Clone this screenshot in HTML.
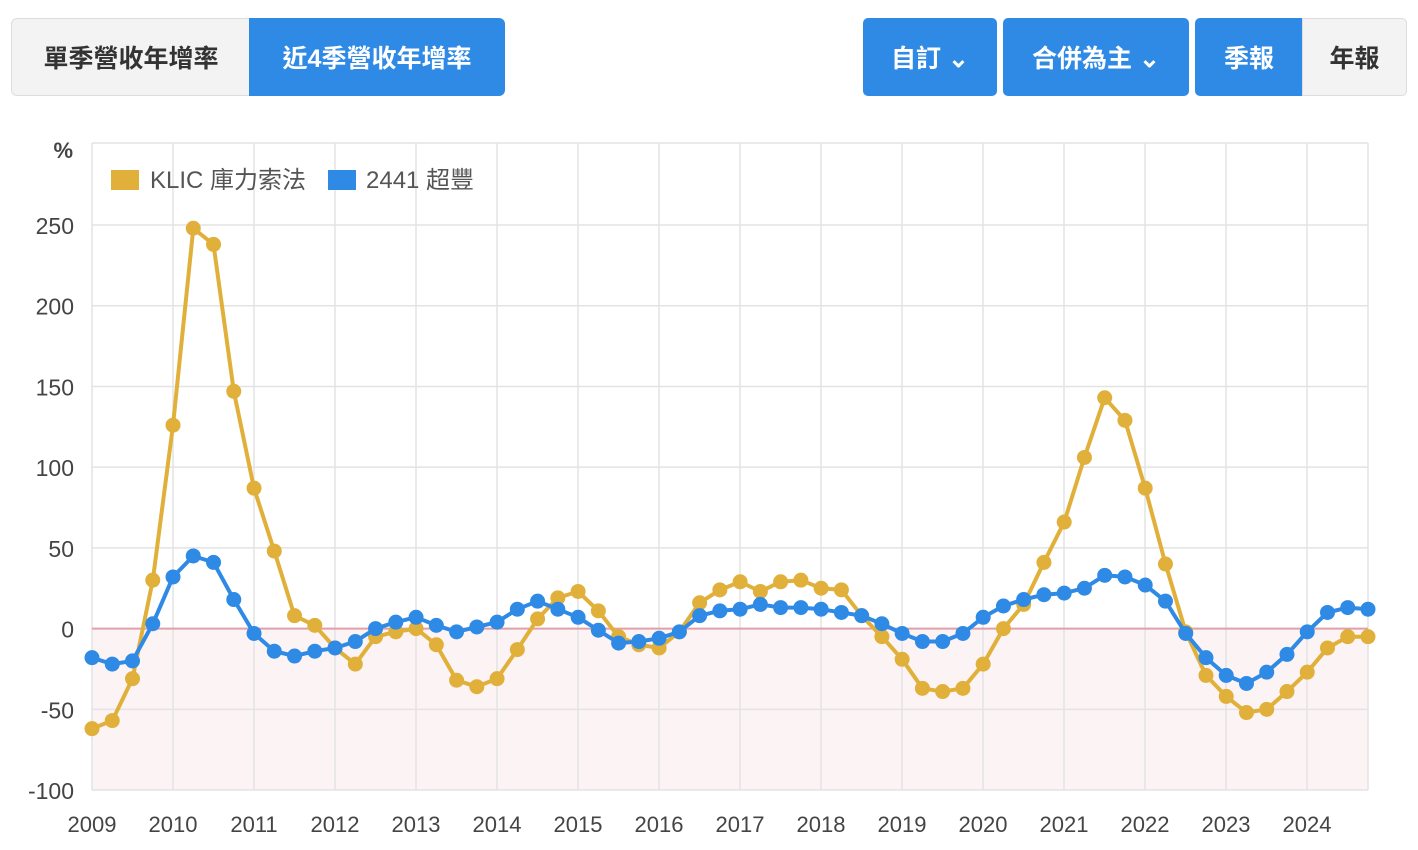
<!DOCTYPE html>
<html><head><meta charset="utf-8"><style>
body{margin:0;width:1418px;height:850px;background:#fff;font-family:"Liberation Sans","Noto Sans CJK TC",sans-serif;overflow:hidden;position:relative}
.b{position:absolute;top:18px;height:78px;display:flex;align-items:center;justify-content:center;font-size:25px;font-weight:bold;box-sizing:border-box}
.g{background:#f3f3f3;color:#333;border:1px solid #ddd}
.bl{background:#2f8ae6;color:#fff}
</style></head><body>
<div class="b g" style="left:11px;width:240px;border-radius:6px 0 0 6px">單季營收年增率</div>
<div class="b bl" style="left:249px;width:256px;border-radius:0 6px 6px 0">近4季營收年增率</div>
<div class="b bl" style="left:863px;width:134px;border-radius:5px">自訂 ⌄</div>
<div class="b bl" style="left:1003px;width:186px;border-radius:5px">合併為主 ⌄</div>
<div class="b bl" style="left:1195px;width:108px;border-radius:5px 0 0 5px">季報</div>
<div class="b g" style="left:1302px;width:105px;border-radius:0 5px 5px 0">年報</div>
<svg id="s" width="1418" height="850" style="position:absolute;left:0;top:0"></svg>
<script>
var Y=[-62,-57,-31,30,126,248,238,147,87,48,8,2,-12,-22,-5,-2,0,-10,-32,-36,-31,-13,6,19,23,11,-5,-10,-12,-2,16,24,29,23,29,30,25,24,8,-5,-19,-37,-39,-37,-22,0,15,41,66,106,143,129,87,40,-2,-29,-42,-52,-50,-39,-27,-12,-5,-5];
var B=[-18,-22,-20,3,32,45,41,18,-3,-14,-17,-14,-12,-8,0,4,7,2,-2,1,4,12,17,12,7,-1,-9,-8,-6,-2,8,11,12,15,13,13,12,10,8,3,-3,-8,-8,-3,7,14,18,21,22,25,33,32,27,17,-3,-18,-29,-34,-27,-16,-2,10,13,12];
function X(i){return 92+i*(1276/63)}
function V(v){return 628.6-v*1.6143}
var h='<rect x="92" y="628.6" width="1276" height="161.4" fill="#fcf3f5"/>';
for(var v=-100;v<=250;v+=50){var y=V(v);h+='<line x1="92" x2="1368" y1="'+y+'" y2="'+y+'" stroke="#e3e3e3" stroke-width="1.5"/><text x="74" y="'+(y+9)+'" font-size="23" fill="#444" text-anchor="end">'+v+'</text>';}
h+='<line x1="92" x2="1368" y1="143" y2="143" stroke="#e3e3e3" stroke-width="1.5"/>';
for(var k=0;k<16;k++){var x=92+k*81;h+='<line x1="'+x+'" x2="'+x+'" y1="143" y2="790" stroke="#e3e3e3" stroke-width="1.5"/><text x="'+x+'" y="832" font-size="22" fill="#444" text-anchor="middle">'+(2009+k)+'</text>';}
h+='<line x1="1368" x2="1368" y1="143" y2="790" stroke="#e3e3e3" stroke-width="1.5"/>';
h+='<line x1="92" x2="1368" y1="628.6" y2="628.6" stroke="#e0a0aa" stroke-width="2"/>';
h+='<text x="73" y="158" font-size="22" font-weight="bold" fill="#444" text-anchor="end">%</text>';
h+='<rect x="111" y="170" width="28" height="20" fill="#e0b03a"/><text x="150" y="188" font-size="24" fill="#555">KLIC 庫力索法</text>';
h+='<rect x="328" y="170" width="28" height="20" fill="#2f8ae6"/><text x="366" y="188" font-size="24" fill="#555">2441 超豐</text>';
function ser(d,c){var p=d.map(function(v,i){return X(i).toFixed(1)+','+V(v).toFixed(1)}).join(' ');var s='<polyline points="'+p+'" fill="none" stroke="'+c+'" stroke-width="4" stroke-linejoin="round"/>';d.forEach(function(v,i){s+='<circle cx="'+X(i)+'" cy="'+V(v)+'" r="7.5" fill="'+c+'"/>'});return s}
h+=ser(Y,'#e0b03a')+ser(B,'#2f8ae6');
document.getElementById('s').innerHTML=h;
</script>
</body></html>
